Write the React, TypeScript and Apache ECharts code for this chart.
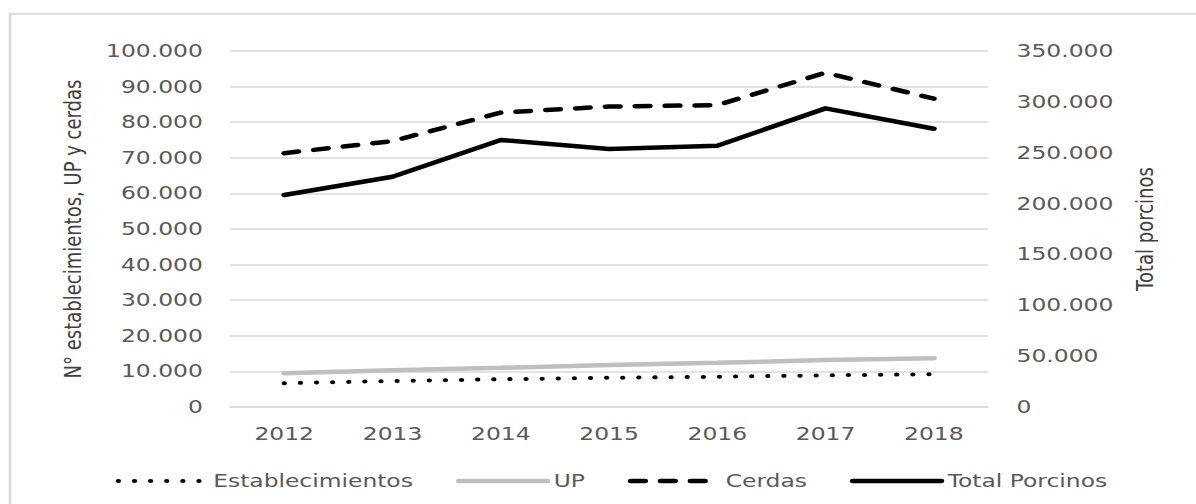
import React, { useEffect, useRef } from "react";
import * as echarts from "echarts";

const years = ["2012", "2013", "2014", "2015", "2016", "2017", "2018"];
const establecimientos = [6700, 7300, 7800, 8200, 8500, 8900, 9200];
const up = [9500, 10300, 11000, 11800, 12400, 13200, 13700];
const cerdas = [71300, 74700, 82700, 84400, 84800, 93900, 86600];
const totalPorcinos = [208400, 226400, 262500, 253600, 256900, 293600, 273600];

const leftName = "N° establecimientos, UP y cerdas";
const rightName = "Total porcinos";

const SX = 1.3;
const W = 1196;
const H = 504;
const CW = Math.round(W / SX);

const fmt = (v: number) => String(v).replace(/\B(?=(\d{3})+(?!\d))/g, ".");

export default function App() {
  const ref = useRef<HTMLDivElement>(null);
  useEffect(() => {
    if (!ref.current) return;
    const chart = echarts.init(ref.current, undefined, { renderer: "svg" });
    const font = "DejaVu Sans";
    const labelColor = "#595959";
    const dotted = { color: "#000000", width: 4, type: [0.1, 12.3], cap: "round" };
    const gray = { color: "#bfbfbf", width: 4.5, type: "solid", cap: "round" };
    const dashed = { color: "#000000", width: 4.5, type: [11, 12], cap: "round" };
    const solid = { color: "#000000", width: 4.5, type: "solid", cap: "round", join: "round" };
    chart.setOption({
      animation: false,
      textStyle: { fontFamily: font },
      graphic: [
        {
          type: "rect",
          silent: true,
          z: -10,
          shape: { x: 7.7, y: 13.7, width: 1200, height: 700 },
          style: { fill: "none", stroke: "#d9d9d9", lineWidth: 2 },
        },
      ],
      grid: { left: 177, right: CW - 760, top: 51, bottom: H - 407, containLabel: false },
      legend: {
        left: 84,
        top: 467,
        itemWidth: 68,
        itemHeight: 14,
        itemGap: 33,
        itemStyle: { opacity: 0 },
        textStyle: { fontFamily: font, fontSize: 18, color: labelColor },
        data: [
          { name: "Establecimientos", lineStyle: dotted, itemStyle: { opacity: 0 } },
          { name: "UP", lineStyle: gray, itemStyle: { opacity: 0 } },
          { name: "Cerdas", lineStyle: dashed, itemStyle: { opacity: 0 } },
          { name: "Total Porcinos", lineStyle: solid, itemStyle: { opacity: 0 } },
        ],
      },
      xAxis: {
        type: "category",
        data: years,
        boundaryGap: true,
        axisLine: { show: true, lineStyle: { color: "#d9d9d9", width: 1.5 } },
        axisTick: { show: false },
        axisLabel: { fontFamily: font, fontSize: 18, color: labelColor, margin: 18 },
      },
      yAxis: [
        {
          type: "value",
          min: 0,
          max: 100000,
          interval: 10000,
          position: "left",
          name: leftName,
          nameLocation: "middle",
          nameRotate: 90,
          nameGap: 112,
          nameTextStyle: { fontFamily: font, fontSize: 18, color: "#404040" },
          axisLine: { show: false },
          axisTick: { show: false },
          splitLine: { show: true, lineStyle: { color: "#d9d9d9", width: 1.5 } },
          axisLabel: { fontFamily: font, fontSize: 18, color: labelColor, margin: 21, formatter: fmt },
        },
        {
          type: "value",
          min: 0,
          max: 350000,
          interval: 50000,
          position: "right",
          name: rightName,
          nameLocation: "middle",
          nameRotate: 90,
          nameGap: 112,
          nameTextStyle: { fontFamily: font, fontSize: 18, color: "#404040" },
          axisLine: { show: false },
          axisTick: { show: false },
          splitLine: { show: false },
          axisLabel: { fontFamily: font, fontSize: 18, color: labelColor, margin: 22, formatter: fmt },
        },
      ],
      series: [
        {
          name: "Establecimientos",
          type: "line",
          yAxisIndex: 0,
          data: establecimientos,
          symbol: "none",
          lineStyle: dotted,
          itemStyle: { color: "#000000" },
        },
        {
          name: "UP",
          type: "line",
          yAxisIndex: 0,
          data: up,
          symbol: "none",
          lineStyle: gray,
          itemStyle: { color: "#bfbfbf" },
        },
        {
          name: "Cerdas",
          type: "line",
          yAxisIndex: 0,
          data: cerdas,
          symbol: "none",
          lineStyle: dashed,
          itemStyle: { color: "#000000" },
        },
        {
          name: "Total Porcinos",
          type: "line",
          yAxisIndex: 1,
          data: totalPorcinos,
          symbol: "none",
          lineStyle: solid,
          itemStyle: { color: "#000000" },
        },
      ],
    });
    return () => chart.dispose();
  }, []);

  return (
    <div style={{ position: "absolute", left: 0, top: 0, width: W, height: H, overflow: "hidden", background: "#fff" }}>
      <div
        ref={ref}
        style={{ width: CW, height: H, transform: `scaleX(${SX})`, transformOrigin: "0 0" }}
      />
    </div>
  );
}
